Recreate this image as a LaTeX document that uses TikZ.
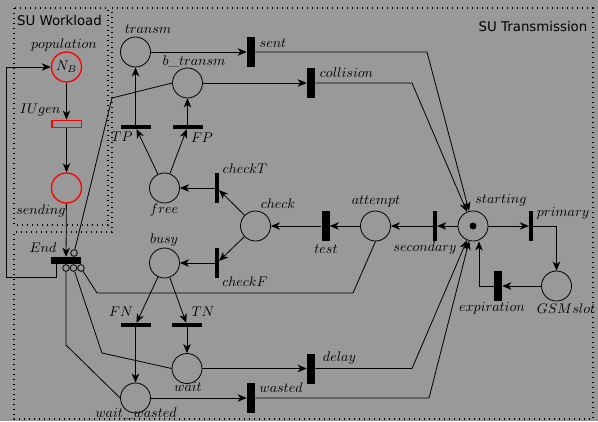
\RequirePackage{fix-cm}
\documentclass[tikz,border=0pt]{standalone}
\usepackage{fontspec}
\newfontfamily\boxfont{DejaVu Sans}
\usepackage{tikz}
\usetikzlibrary{arrows.meta,positioning}
\usepackage{xcolor}
\definecolor{CanvasGray}{HTML}{999999}
\definecolor{WorkloadRed}{HTML}{FF0000}
\tikzset{
  placenode/.style={circle,draw=black,line width=0.6pt,minimum size=22.5pt,inner sep=0pt},
  workplace/.style={circle,draw=WorkloadRed,line width=1pt,minimum size=22.5pt,inner sep=0pt,font=\fontsize{10.5}{12}\selectfont},
  hbarnode/.style={fill=black,minimum width=22.5pt,minimum height=2.8pt,inner sep=0pt},
  vbarnode/.style={fill=black,minimum width=2.8pt,minimum height=22.5pt,inner sep=0pt},
  timednode/.style={fill=black,minimum width=6pt,minimum height=22.5pt,inner sep=0pt},
  endnode/.style={fill=black,minimum width=22.5pt,minimum height=5.2pt,inner sep=0pt},
  gennode/.style={draw=WorkloadRed,line width=1pt,minimum width=22pt,minimum height=5.5pt,inner sep=0pt},
  inhnode/.style={circle,draw=black,line width=0.6pt,minimum size=5pt,inner sep=0pt},
  tokennode/.style={circle,fill=black,minimum size=5.2pt,inner sep=0pt},
  arcline/.style={-{Stealth[length=6.8pt,width=5.6pt,inset=2pt]},line width=0.6pt},
  inhline/.style={line width=0.6pt},
  boxline/.style={line width=1pt,dash pattern=on 1pt off 2.75pt},
  lbl/.style={inner sep=0pt,font=\fontsize{10.5}{12}\selectfont},
  boxtitle/.style={font=\boxfont,inner sep=0pt}
}

\begin{document}
\begin{tikzpicture}[x=0.75pt,y=-0.75pt]
\useasboundingbox (0,0) rectangle (598,421);
\fill[CanvasGray] (0,0) rectangle (598,421);
\draw[boxline] (14,8) rectangle (108,225);
\draw[boxline] (112,8) -- (593,8) -- (593,419) -- (14,419) -- (14,232) -- (112,232) -- cycle;
\node[boxtitle] (wltitle) at (59.5,21) {SU Workload};
\node[boxtitle] (trtitle) at (533,27) {SU Transmission};

\node[workplace] (pop) at (66.5,67) {$N_B$};
\node[gennode] (iugen) at (66.5,124) {};
\node[workplace] (sending) at (66.5,188) {};
\node[endnode] (End) at (66,260.5) {};
\node[inhnode] (inhA) at (74,253) {};
\node[inhnode] (inhB) at (66,268) {};
\node[inhnode] (inhC) at (73.5,268) {};
\node[inhnode] (inhD) at (81,268) {};

\node[placenode] (transm) at (135.5,52) {};
\node[placenode] (btransm) at (187.5,83) {};
\node[hbarnode] (tp) at (135.5,127) {};
\node[hbarnode] (fp) at (187.5,127) {};
\node[placenode] (free) at (164.5,188) {};
\node[placenode] (busy) at (164.5,263) {};
\node[vbarnode] (checkT) at (217,188) {};
\node[vbarnode] (checkF) at (217,263) {};
\node[placenode] (check) at (255.5,226) {};
\node[timednode] (test) at (325.5,226) {};
\node[placenode] (attempt) at (375.5,226) {};
\node[vbarnode] (secondary) at (435,226) {};
\node[placenode] (starting) at (473,226) {};
\node[tokennode] (tok) at (starting) {};
\node[vbarnode] (primary) at (531,226) {};
\node[placenode] (gsmslot) at (556.5,286) {};
\node[timednode] (expiration) at (498,286) {};
\node[timednode] (sent) at (251,52) {};
\node[timednode] (collision) at (311,83) {};
\node[hbarnode] (fn) at (135.5,325) {};
\node[hbarnode] (tn) at (187,325) {};
\node[placenode] (wait) at (187,368.5) {};
\node[placenode] (waitwasted) at (135.5,398) {};
\node[timednode] (delay) at (311,368.5) {};
\node[timednode] (wasted) at (251,398) {};

\node[lbl] (poplabel) at (64,45) {$population$};
\node[lbl] (iugenlabel) at (40,110.5) {$IUgen$};
\node[lbl] (sendinglabel) at (41,211) {$sending$};
\node[lbl] (endlabel) at (43,248) {$End$};
\node[lbl] (transmlabel) at (148,29) {$transm$};
\node[lbl] (btransmlabel) at (194,62) {$b\_transm$};
\node[lbl] (tplabel) at (122,137) {$TP$};
\node[lbl] (fplabel) at (202,138) {$FP$};
\node[lbl] (freelabel) at (164,210) {$free$};
\node[lbl] (checkTlabel) at (245,168.5) {$checkT$};
\node[lbl] (checklabel) at (278,204) {$check$};
\node[lbl] (checkFlabel) at (245,282) {$checkF$};
\node[lbl] (busylabel) at (164,240) {$busy$};
\node[lbl] (testlabel) at (326,249) {$test$};
\node[lbl] (attemptlabel) at (376,202) {$attempt$};
\node[lbl] (secondarylabel) at (425,248) {$secondary$};
\node[lbl] (startinglabel) at (501,200) {$starting$};
\node[lbl] (primarylabel) at (563,213) {$primary$};
\node[lbl] (expirationlabel) at (492,308) {$expiration$};
\node[lbl] (gsmslotlabel) at (566,309) {$GSMslot$};
\node[lbl] (sentlabel) at (273,43) {$sent$};
\node[lbl] (collisionlabel) at (346.5,73) {$collision$};
\node[lbl] (fnlabel) at (121,312) {$FN$};
\node[lbl] (tnlabel) at (203,312) {$TN$};
\node[lbl] (waitlabel) at (188,387) {$wait$};
\node[lbl] (waitwastedlabel) at (136,414) {$wait\_wasted$};
\node[lbl] (delaylabel) at (339.5,358) {$delay$};
\node[lbl] (wastedlabel) at (281,388) {$wasted$};

\coordinate (ret) at (6,277);
\coordinate (sentbend) at (427,52);
\coordinate (collbend) at (412,83);
\coordinate (delaybend) at (412,368.5);
\coordinate (wastedbend) at (429,398);
\coordinate (inhbendA) at (112,98);
\coordinate (inhbendB) at (66,345);
\coordinate (inhbendC) at (102,353);
\coordinate (inhbendD) at (97,293);
\coordinate (inhbendE) at (353,293);

\draw[arcline] (pop) -- (iugen);
\draw[arcline] (iugen) -- (sending);
\draw[arcline] (sending) -- (End);
\draw[arcline] ([xshift=4.5pt]End.south west) |- (ret) |- (pop);
\draw[arcline] (transm) -- (sent);
\draw[arcline] (btransm) -- (collision);
\draw[arcline] (sent) -- (sentbend) -- (starting);
\draw[arcline] (collision) -- (collbend) -- (starting);
\draw[arcline] (tp) -- (transm);
\draw[arcline] (fp) -- (btransm);
\draw[arcline] (free) -- (tp);
\draw[arcline] (free) -- (fp);
\draw[arcline] (checkT) -- (free);
\draw[arcline] (check) -- (checkT);
\draw[arcline] (check) -- (checkF);
\draw[arcline] (checkF) -- (busy);
\draw[arcline] (test) -- (check);
\draw[arcline] (attempt) -- (test);
\draw[arcline] (secondary) -- (attempt);
\draw[arcline] (starting) -- (secondary);
\draw[arcline] (starting) -- (primary);
\draw[arcline] (primary) -| (gsmslot);
\draw[arcline] (gsmslot) -- (expiration);
\draw[arcline] (expiration) -| ([xshift=4.5pt]starting.south);
\draw[arcline] (busy) -- (fn);
\draw[arcline] (busy) -- (tn);
\draw[arcline] (fn) -- (waitwasted);
\draw[arcline] (tn) -- (wait);
\draw[arcline] (wait) -- (delay);
\draw[arcline] (waitwasted) -- (wasted);
\draw[arcline] (delay) -- (delaybend) -- (starting);
\draw[arcline] (wasted) -- (wastedbend) -- (starting);
\draw[inhline] (btransm.west) -- (inhbendA) -- (inhA);
\draw[inhline] (inhB) -- (inhbendB) -- (waitwasted.west);
\draw[inhline] (inhC) -- (inhbendC) -- (wait.west);
\draw[inhline] (inhD) -- (inhbendD) -- (inhbendE) -- (attempt.south);
\end{tikzpicture}
\end{document}
